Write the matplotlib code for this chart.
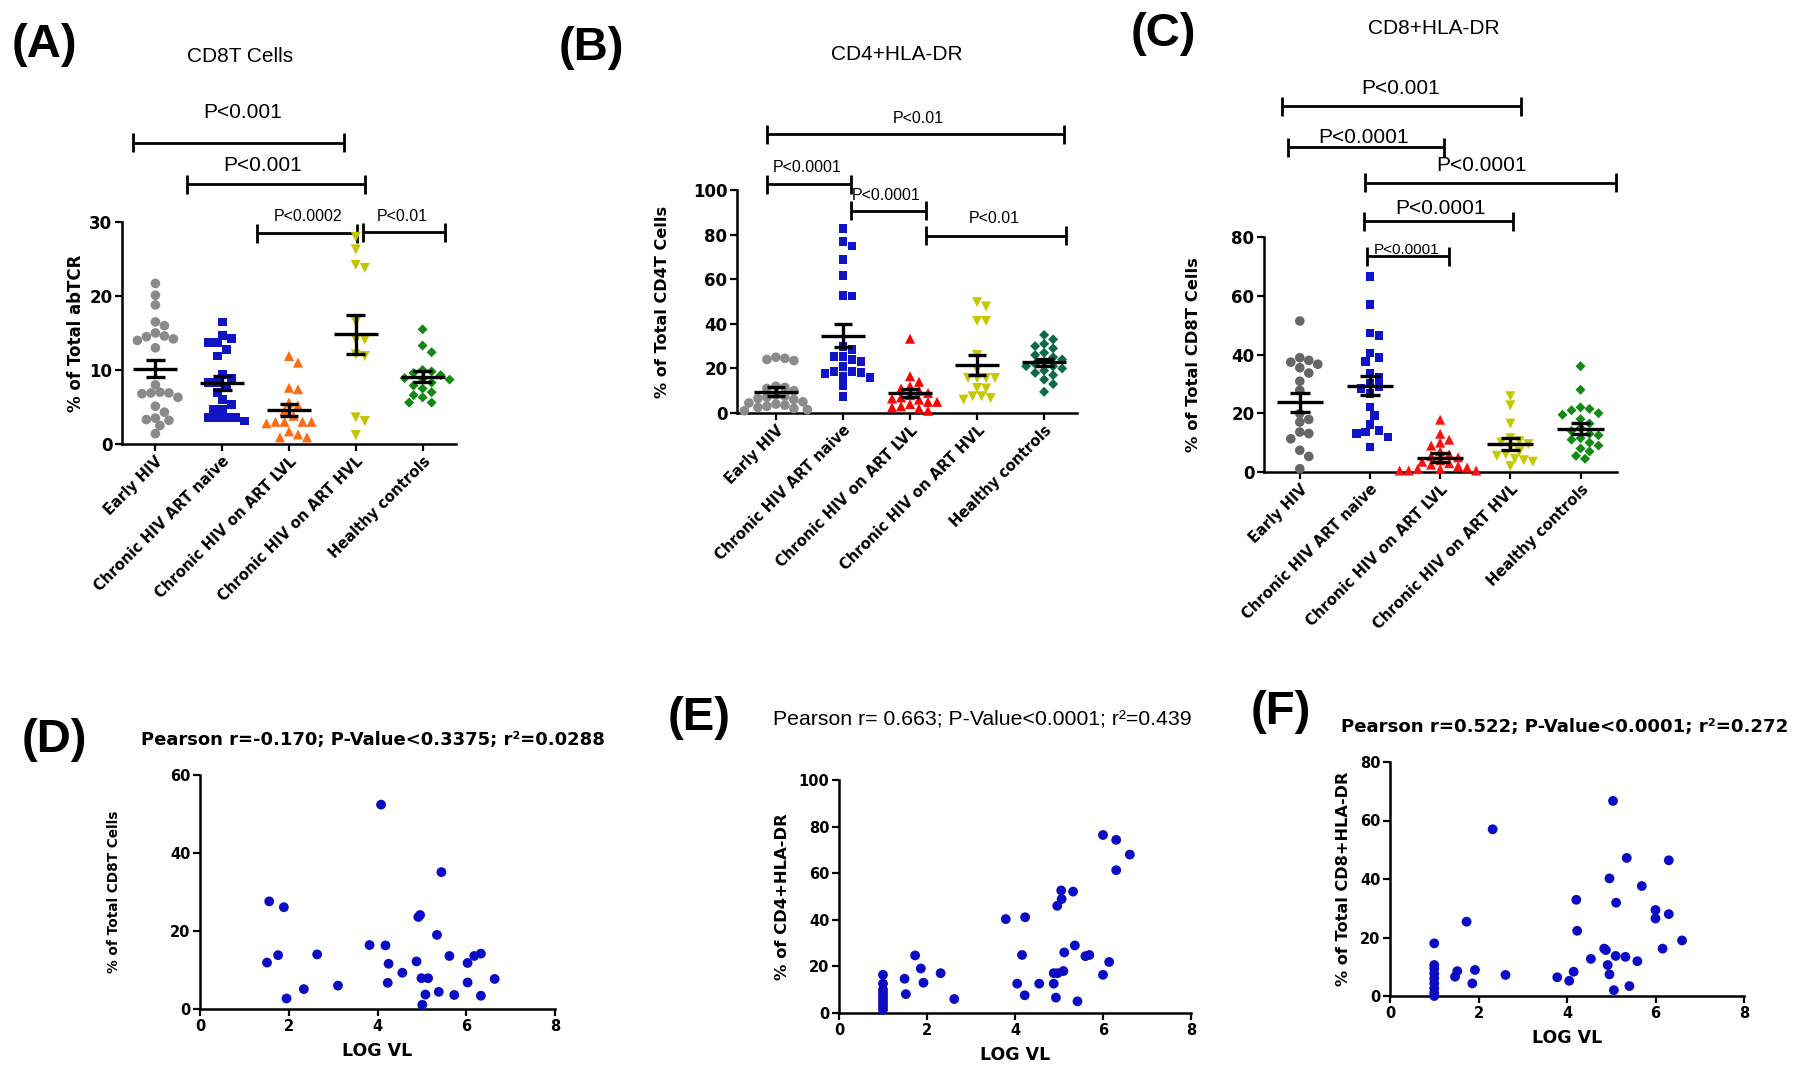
import numpy as np
import matplotlib
matplotlib.use("Agg")
import matplotlib.pyplot as plt

plt.rcParams["font.family"] = ["Liberation Sans", "DejaVu Sans"]
BOLD = dict(family="DejaVu Sans", fontweight="bold")

# ---------- data ----------
GROUPS = ["Early HIV", "Chronic HIV ART naive", "Chronic HIV on ART LVL",
          "Chronic HIV on ART HVL", "Healthy controls"]

# (A) CD8T cells, % of total abTCR
A_EARLY = [21.7, 20.1, 18.8, 16.5, 16.0, 14.6, 14.2, 14.5, 14.0, 15.0, 13.0, 8.0,
           6.3, 6.9, 7.0, 6.8, 6.9, 5.1, 4.3, 3.5, 3.3, 2.5, 3.2, 1.4]
A_NAIVE = [16.5, 14.7, 14.3, 13.7, 13.7, 12.8, 11.9, 9.4, 8.9, 8.3, 8.3, 7.8, 7.0,
           6.0, 5.3, 4.7, 4.7, 3.6, 3.6, 3.6, 3.6, 3.1]
A_LVL = [11.9, 11.0, 7.6, 7.4, 5.6, 5.2, 4.5, 3.8, 3.0, 3.0, 3.0, 3.0, 2.8, 1.7,
         1.3, 0.9, 0.9]
A_HVL = [28.0, 26.3, 24.2, 23.8, 16.5, 14.1, 14.1, 12.1, 11.9, 3.6, 3.1, 1.2]
A_HC = [15.5, 13.3, 12.4, 10.0, 9.8, 9.6, 9.3, 8.9, 8.8, 8.7, 8.3, 7.9, 7.5, 7.0,
        6.6, 6.3, 5.6, 5.6]
A_MEAN = [10.2, 8.2, 4.6, 14.8, 9.1]
A_SEM = [1.2, 0.95, 0.85, 2.7, 0.7]

# (B) CD4+HLA-DR, % of total CD4T cells
B_EARLY = [25.0, 24.5, 24.0, 23.5, 12.0, 11.5, 11.0, 10.0, 8.0, 7.5, 7.0, 6.5, 6.0,
           5.0, 4.5, 4.0, 3.5, 3.0, 2.5, 2.0, 1.5, 1.0]
B_NAIVE = [82.8, 76.9, 74.9, 68.7, 61.5, 52.5, 52.8, 29.9, 28.4, 25.4, 25.4, 24.0,
           23.0, 21.0, 18.7, 18.5, 18.0, 17.6, 16.4, 16.0, 12.2, 7.5]
B_LVL = [33.3, 16.5, 14.0, 12.0, 11.0, 10.0, 9.0, 8.0, 7.0, 6.5, 6.0, 5.0, 5.0, 4.0,
         3.0, 2.5, 2.0, 1.0]
B_HVL = [49.7, 47.8, 41.3, 41.3, 26.0, 19.5, 15.7, 15.7, 15.7, 15.7, 11.2, 11.0,
         7.5, 7.5, 6.7, 6.0]
B_HC = [35.0, 33.0, 31.0, 30.0, 29.0, 27.0, 26.0, 25.0, 24.0, 23.0, 22.0, 21.0, 21.0,
        20.0, 19.0, 18.0, 17.0, 15.0, 13.0, 9.5]
B_MEAN = [9.6, 34.7, 9.0, 21.5, 22.8]
B_SEM = [2.1, 5.0, 1.8, 4.5, 1.5]

# (C) CD8+HLA-DR, % of total CD8T cells
C_EARLY = [51.4, 38.9, 38.0, 37.4, 36.7, 35.5, 33.7, 30.9, 27.8, 19.9, 17.9, 17.0,
           13.6, 13.1, 11.3, 7.4, 5.3, 1.1]
C_NAIVE = [66.6, 57.0, 47.3, 46.5, 40.5, 38.9, 37.7, 33.7, 32.3, 30.1, 29.2, 28.4,
           26.7, 22.1, 19.3, 16.2, 14.0, 13.6, 13.1, 11.9, 8.5]
C_LVL = [17.8, 13.0, 11.0, 10.0, 9.0, 7.0, 6.0, 5.5, 5.0, 4.0, 3.5, 3.0, 2.5, 2.0,
         1.5, 1.0, 1.0, 0.5, 0.5, 0.5]
C_HVL = [25.8, 22.7, 16.5, 11.5, 10.5, 10.0, 9.5, 8.5, 7.0, 6.0, 5.5, 4.5, 4.0, 3.5, 2.0]
C_HC = [36.0, 28.0, 22.0, 21.5, 21.0, 20.0, 19.5, 18.0, 16.5, 15.0, 14.0, 13.0, 12.5,
        11.5, 11.0, 10.0, 9.0, 8.0, 7.0, 5.5, 4.5]
C_MEAN = [23.7, 29.4, 4.9, 9.6, 14.8]
C_SEM = [3.2, 3.3, 1.6, 2.0, 1.9]

# (D) LOG VL vs % of total CD8T cells
D_X = [1.56, 1.89, 1.51, 1.76, 1.95, 2.34, 2.64, 3.11, 3.82, 4.08, 4.18, 4.25, 4.23,
       4.56, 4.88, 4.92, 4.96, 4.99, 5.01, 5.08, 5.14, 5.34, 5.38, 5.44, 5.62, 5.73,
       6.03, 6.03, 6.18, 6.33, 6.33, 6.64]
D_Y = [27.6, 26.1, 11.9, 13.8, 2.7, 5.1, 14.0, 6.0, 16.4, 52.4, 16.3, 11.6, 6.7,
       9.3, 12.2, 23.6, 24.1, 7.9, 1.1, 3.7, 7.9, 19.0, 4.4, 35.1, 13.6, 3.6,
       11.8, 6.8, 13.6, 14.2, 3.4, 7.7]

# (E) LOG VL vs % of CD4+HLA-DR
E_X = [1.0, 1.0, 1.0, 1.0, 1.0, 1.0, 1.0, 1.0, 1.0, 1.49, 1.52, 1.73, 1.86, 1.92,
       2.31, 2.62, 3.79, 4.05, 4.16, 4.23, 4.22, 4.55, 4.88, 4.88, 4.93, 4.96, 4.97,
       5.05, 5.06, 5.10, 5.12, 5.32, 5.36, 5.42, 5.60, 5.69, 6.00, 6.00, 6.14, 6.30,
       6.30, 6.61]
E_Y = [16.4, 12.6, 10.0, 8.6, 7.1, 5.7, 4.3, 2.9, 1.4, 14.7, 8.1, 24.7, 19.1, 13.0,
       17.1, 6.0, 40.3, 12.6, 24.9, 41.1, 7.6, 12.6, 17.1, 12.6, 6.6, 46.0, 17.1,
       52.6, 48.9, 18.0, 26.0, 52.1, 29.0, 5.0, 24.4, 24.9, 76.4, 16.4, 21.9, 74.3,
       61.3, 68.0]

# (F) LOG VL vs % of total CD8+HLA-DR
F_X = [1.0, 1.0, 1.0, 1.0, 1.0, 1.0, 1.0, 1.0, 1.0, 1.47, 1.52, 1.73, 1.86, 1.92,
       2.32, 2.61, 3.78, 4.05, 4.15, 4.21, 4.23, 4.54, 4.84, 4.88, 4.92, 4.96, 4.96,
       5.04, 5.06, 5.10, 5.11, 5.32, 5.35, 5.41, 5.59, 5.69, 6.00, 6.00, 6.16, 6.30,
       6.30, 6.60]
F_Y = [18.0, 10.6, 9.4, 7.7, 6.0, 4.3, 2.6, 1.1, 0.0, 6.6, 8.5, 25.4, 4.3, 8.9,
       57.0, 7.2, 6.4, 5.2, 8.3, 32.9, 22.3, 12.7, 16.2, 15.7, 10.6, 40.2, 7.4,
       66.7, 2.0, 13.7, 31.9, 13.4, 47.2, 3.4, 11.9, 37.6, 29.4, 26.5, 16.2, 46.4,
       28.0, 19.0]

# significance brackets: (x1, x2, y, label, text x, text y, fontsize)
A_BRACKETS = [(-0.33, 2.83, 40.7, "P<0.001", 1.31, 44.8, 15),
              (0.47, 3.14, 35.1, "P<0.001", 1.61, 37.7, 15),
              (1.52, 3.02, 28.5, "P<0.0002", 2.29, 30.7, 11.5),
              (3.11, 4.34, 28.6, "P<0.01", 3.69, 30.7, 11.5)]
B_BRACKETS = [(-0.13, 4.30, 125.0, "P<0.01", 2.12, 132.2, 11.5),
              (-0.13, 1.12, 102.6, "P<0.0001", 0.46, 110.0, 11.5),
              (1.12, 2.24, 90.7, "P<0.0001", 1.64, 97.5, 11.5),
              (2.24, 4.33, 79.4, "P<0.01", 3.25, 87.4, 11.5)]
C_BRACKETS = [(-0.26, 3.15, 124.5, "P<0.001", 1.43, 130.5, 15),
              (-0.17, 2.05, 110.6, "P<0.0001", 0.91, 113.8, 15),
              (0.93, 4.51, 98.4, "P<0.0001", 2.59, 104.2, 15),
              (0.91, 3.04, 85.4, "P<0.0001", 2.01, 89.7, 15),
              (0.96, 2.12, 73.4, "P<0.0001", 1.52, 75.5, 11)]

# ---------- layout helpers ----------
W, H = 1800, 1077
fig = plt.figure(figsize=(W / 100, H / 100), dpi=100)


def px_axes(left, top, right, bottom):
    return fig.add_axes([left / W, 1 - bottom / H, (right - left) / W, (bottom - top) / H])


def ftext(x, y, s, **kw):
    fig.text(x / W, 1 - y / H, s, **kw)


def style_axes(ax, tick_fs):
    for s in ("top", "right"):
        ax.spines[s].set_visible(False)
    for s in ("left", "bottom"):
        ax.spines[s].set_linewidth(1.8)
    ax.tick_params(direction="out", length=5, width=1.6, labelsize=tick_fs, pad=2)
    for lab in ax.get_yticklabels() + ax.get_xticklabels():
        lab.set_fontweight("bold")
        lab.set_family("DejaVu Sans")


def swarm(values, y_px, x_px, diam=9.0):
    """Simple beeswarm: returns x offsets (category units) so dots don't overlap."""
    ys = np.asarray(values, dtype=float) * y_px
    xs = np.zeros(len(ys))
    done = []
    for i in np.argsort(-ys):
        k = 0
        while True:
            cands = [0.0] if k == 0 else [k * diam * 0.5, -k * diam * 0.5]
            hit = None
            for c in cands:
                if all((c - xs[j]) ** 2 + (ys[i] - ys[j]) ** 2 >= (0.92 * diam) ** 2 for j in done):
                    hit = c
                    break
            if hit is not None:
                xs[i] = hit
                break
            k += 1
        done.append(i)
    return xs / x_px


def bracket(ax, x1, x2, y, label, tx, ty, fs, cap_px=9.5):
    y0, y1 = ax.get_ylim()
    d = cap_px * (y1 - y0) / (ax.get_position().height * H)
    kw = dict(color="black", lw=2.0, clip_on=False, solid_capstyle="butt")
    ax.plot([x1, x2], [y, y], **kw)
    ax.plot([x1, x1], [y - d, y + d], **kw)
    ax.plot([x2, x2], [y - d, y + d], **kw)
    ax.text(tx, ty, label, ha="center", va="center", fontsize=fs, clip_on=False)


MARKERS = [("o", 48), ("s", 40), ("^", 52), ("v", 52), ("D", 26)]


def dot_panel(rect, groups, means, sems, colors, ylim, yticks, ylabel, ylab_x,
              xlim, brackets, ylab_fs):
    ax = px_axes(*rect)
    ax.set_xlim(*xlim)
    ax.set_ylim(*ylim)
    y_px = (rect[3] - rect[1]) / (ylim[1] - ylim[0])
    x_px = (rect[2] - rect[0]) / (xlim[1] - xlim[0])
    for i, vals in enumerate(groups):
        off = swarm(vals, y_px, x_px)
        m, s = MARKERS[i]
        ax.scatter(i + off, vals, marker=m, s=s, color=colors[i], edgecolors="none",
                   zorder=3, clip_on=False)
        kw = dict(color="black", lw=2.4, zorder=5)
        ax.hlines(means[i], i - 0.33, i + 0.33, **kw)
        ax.vlines(i, means[i] - sems[i], means[i] + sems[i], **kw)
        ax.hlines([means[i] - sems[i], means[i] + sems[i]], i - 0.14, i + 0.14, **kw)
    ax.set_yticks(yticks)
    ax.set_xticks(range(len(GROUPS)))
    ax.set_xticklabels(GROUPS, rotation=45, ha="right", rotation_mode="anchor")
    style_axes(ax, 12)
    for lab in ax.get_xticklabels():
        lab.set_fontsize(10.5)
    ax.set_ylabel(ylabel, fontsize=ylab_fs, **BOLD)
    ax.yaxis.set_label_coords(ylab_x, 0.5)
    for b in brackets:
        bracket(ax, *b)
    return ax


def xy_panel(rect, xs, ys, ylim, yticks, ylabel, ylab_x, ylab_fs):
    ax = px_axes(*rect)
    ax.scatter(xs, ys, s=50, color="#0c0cc4", edgecolors="none", zorder=3, clip_on=False)
    ax.set_xlim(0, 8)
    ax.set_ylim(*ylim)
    ax.set_xticks([0, 2, 4, 6, 8])
    ax.set_yticks(yticks)
    style_axes(ax, 10.5)
    ax.set_xlabel("LOG VL", fontsize=12.5, labelpad=6, **BOLD)
    ax.set_ylabel(ylabel, fontsize=ylab_fs, **BOLD)
    ax.yaxis.set_label_coords(ylab_x, 0.5)
    return ax


# ---------- top row ----------
dot_panel((122, 222, 456, 444), [A_EARLY, A_NAIVE, A_LVL, A_HVL, A_HC], A_MEAN, A_SEM,
          ["#8a8a8a", "#1014c4", "#ff6a13", "#c4c400", "#128a12"],
          (0, 30), [0, 10, 20, 30], "% of Total abTCR", -0.11, (-0.5, 4.5), A_BRACKETS, 12)
dot_panel((737, 190, 1077, 413), [B_EARLY, B_NAIVE, B_LVL, B_HVL, B_HC], B_MEAN, B_SEM,
          ["#8c8c8c", "#1014c8", "#ff0000", "#c8c800", "#0b6b48"],
          (0, 100), [0, 20, 40, 60, 80, 100], "% of Total CD4T Cells", -0.197,
          (-0.58, 4.49), B_BRACKETS, 11.6)
dot_panel((1264, 237, 1617, 472), [C_EARLY, C_NAIVE, C_LVL, C_HVL, C_HC], C_MEAN, C_SEM,
          ["#666666", "#1014c8", "#ff1010", "#c8c800", "#108a10"],
          (0, 80), [0, 20, 40, 60, 80], "% of Total CD8T Cells", -0.178,
          (-0.51, 4.52), C_BRACKETS, 11.8)

ftext(240, 57, "CD8T Cells", ha="center", va="center", fontsize=15)
ftext(897, 54, "CD4+HLA-DR", ha="center", va="center", fontsize=15)
ftext(1434, 28, "CD8+HLA-DR", ha="center", va="center", fontsize=15)

# ---------- bottom row ----------
xy_panel((200, 775, 555, 1009), D_X, D_Y, (0, 60), [0, 20, 40, 60],
         "% of Total CD8T Cells", -0.222, 9.8)
xy_panel((839, 780, 1191, 1013), E_X, E_Y, (0, 100), [0, 20, 40, 60, 80, 100],
         "% of CD4+HLA-DR", -0.139, 11.8)
xy_panel((1390, 762, 1744, 996), F_X, F_Y, (0, 80), [0, 20, 40, 60, 80],
         "% of Total CD8+HLA-DR", -0.11, 11.6)

ftext(141, 740, "Pearson r=-0.170; P-Value<0.3375; r²=0.0288", ha="left", va="center",
      fontsize=13, **BOLD)
ftext(773, 719, "Pearson r= 0.663; P-Value<0.0001; r²=0.439", ha="left", va="center",
      fontsize=15.3)
ftext(1341, 727, "Pearson r=0.522; P-Value<0.0001; r²=0.272", ha="left", va="center",
      fontsize=13.1, **BOLD)

# ---------- panel letters ----------
for lab, x, y in [("(A)", 12, 45), ("(B)", 559, 48), ("(C)", 1131, 34),
                  ("(D)", 22, 740), ("(E)", 668, 718), ("(F)", 1251, 712)]:
    ftext(x, y, lab, ha="left", va="center", fontsize=34, fontweight="bold")

fig.savefig("out.png", dpi=100)
